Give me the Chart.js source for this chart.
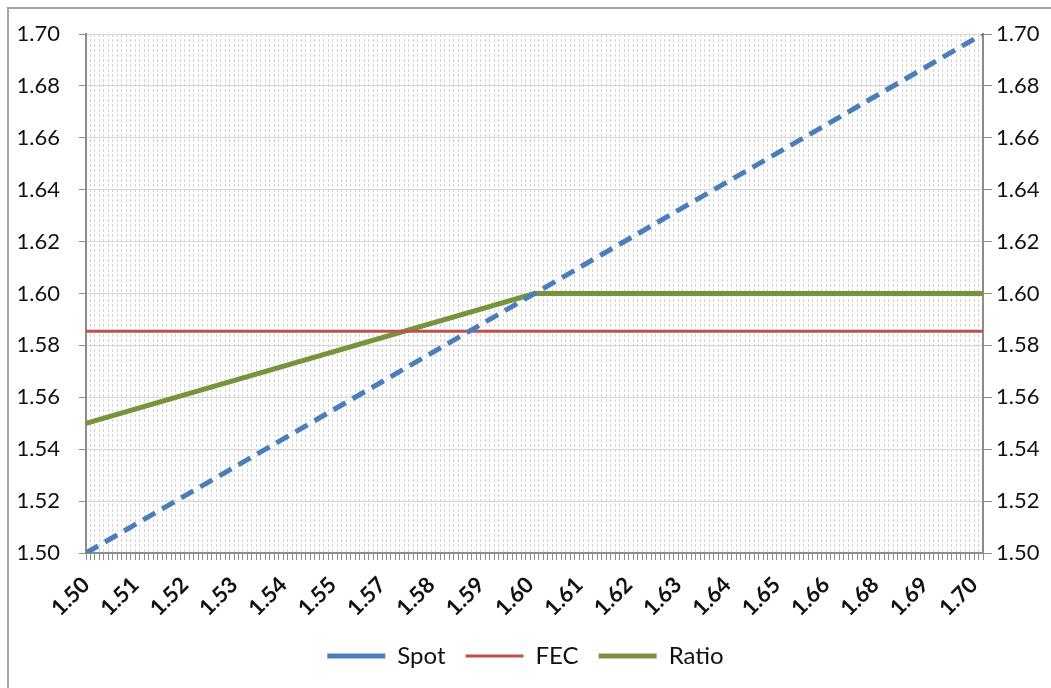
<!DOCTYPE html>
<html>
<head>
<meta charset="utf-8">
<script src="https://cdn.jsdelivr.net/npm/chart.js@4.4.1/dist/chart.umd.min.js"></script>
<style>
  html, body { margin: 0; padding: 0; background: #fff; }
  #wrap { position: relative; width: 1051px; height: 688px; overflow: hidden; }
  #frame { position: absolute; left: 7px; top: 7px; width: 1100px; height: 800px; border: 2px solid #a6a6a6; pointer-events: none; }
  canvas { position: absolute; left: 0; top: 0; }
</style>
</head>
<body>
<div id="wrap">
  <canvas id="myChart" width="1051" height="688"></canvas>
  <div id="frame"></div>
</div>
<script>
// labels shown on every 11th step of 0.001 (Excel rounding kept as seen)
const xTickLabels = ['1.50', '1.51', '1.52', '1.53', '1.54', '1.55', '1.57', '1.58', '1.59', '1.60',
                     '1.61', '1.62', '1.63', '1.64', '1.65', '1.66', '1.68', '1.69', '1.70'];

const spotX = [1.50, 1.70];
const spotY = [1.50, 1.70];

const fecX = [1.50, 1.70];
const fecY = [1.5855, 1.5855];

const ratioX = [1.50, 1.60, 1.70];
const ratioY = [1.55, 1.60, 1.60];

function pts(xs, ys) {
  return xs.map((x, i) => ({ x: x, y: ys[i] }));
}

const font = 'Lato';

new Chart(document.getElementById('myChart'), {
  type: 'line',
  data: {
    datasets: [{
      label: 'Spot',
      data: pts(spotX, spotY),
      borderColor: '#4a7ebb',
      backgroundColor: '#4a7ebb',
      borderWidth: 5,
      borderDash: [14, 8],
      pointRadius: 0
    }, {
      label: 'FEC',
      data: pts(fecX, fecY),
      borderColor: '#c0504d',
      backgroundColor: '#c0504d',
      borderWidth: 3,
      pointRadius: 0
    }, {
      label: 'Ratio',
      data: pts(ratioX, ratioY),
      borderColor: '#77933c',
      backgroundColor: '#77933c',
      borderWidth: 5,
      pointRadius: 0
    }]
  },
  options: {
    responsive: false,
    animation: false,
    devicePixelRatio: 1,
    layout: { padding: { top: 34, left: 0, right: 0, bottom: 10 } },
    plugins: {
      tooltip: { enabled: false },
      legend: {
        position: 'bottom',
        labels: {
          usePointStyle: true,
          pointStyle: 'line',
          pointStyleWidth: 58,
          boxHeight: 12,
          padding: 20,
          color: '#111',
          font: { family: font, size: 24 }
        }
      }
    },
    scales: {
      x: {
        type: 'linear',
        min: 1.5,
        max: 1.7,
        afterFit: s => { s.height = 71; },
        ticks: {
          stepSize: 0.001,
          autoSkip: false,
          minRotation: 45,
          maxRotation: 45,
          padding: 12,
          color: '#111',
          font: { family: font, size: 22, weight: 'bold' },
          callback: (v, i) => (i % 11 === 0 ? xTickLabels[i / 11] : '')
        },
        grid: {
          color: '#d4d4d4',
          lineWidth: 1,
          tickLength: 7,
          tickColor: '#8c8c8c'
        },
        border: { color: '#8c8c8c', width: 2, dash: [3, 2] }
      },
      y: {
        position: 'left',
        min: 1.5,
        max: 1.7,
        afterFit: s => { s.width = 86; },
        ticks: {
          stepSize: 0.02,
          padding: 19,
          color: '#111',
          font: { family: font, size: 22 },
          callback: v => v.toFixed(2)
        },
        grid: {
          color: '#d6d6d6',
          tickLength: 7,
          tickColor: '#8c8c8c'
        },
        border: { color: '#8c8c8c', width: 2 }
      },
      y2: {
        position: 'right',
        min: 1.5,
        max: 1.7,
        afterFit: s => { s.width = 68; },
        ticks: {
          stepSize: 0.02,
          padding: 4,
          color: '#111',
          font: { family: font, size: 22 },
          callback: v => v.toFixed(2)
        },
        grid: {
          drawOnChartArea: false,
          tickLength: 9,
          tickColor: '#8c8c8c'
        },
        border: { color: '#8c8c8c', width: 2 }
      }
    }
  }
});
</script>
</body>
</html>
